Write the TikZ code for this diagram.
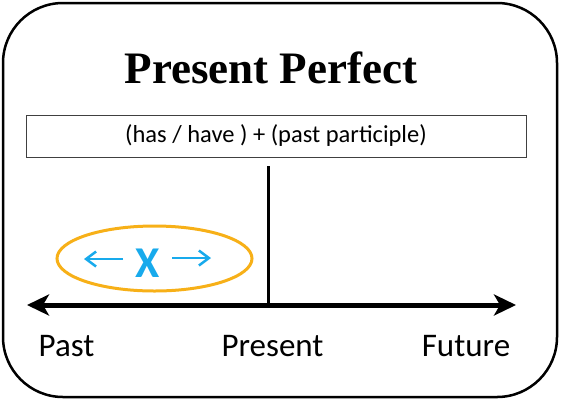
\documentclass[tikz,border=0pt]{standalone}
\usepackage{fontspec}
\setmainfont{Carlito}
\newfontfamily\titlefont{Liberation Serif}
\usetikzlibrary{arrows.meta,shapes.geometric}
\definecolor{ringorange}{RGB}{247,176,24}
\definecolor{xblue}{RGB}{24,170,236}
\tikzset{
  frame/.style={draw=black, line width=2.5pt, rounded corners=60pt},
  formulabox/.style={draw=black!75, line width=0.9pt, minimum width=500pt, minimum height=42pt, inner sep=0pt, font=\fontsize{24.5}{29}\selectfont},
  titletext/.style={anchor=base, font=\titlefont\bfseries\fontsize{45}{50}\selectfont},
  timelabel/.style={anchor=base, font=\fontsize{33}{38}\selectfont},
  timeline/.style={line width=5pt, {Stealth[length=22pt,width=21pt,inset=6pt]}-{Stealth[length=22pt,width=21pt,inset=6pt]}},
  nowline/.style={line width=3pt},
  ring/.style={ellipse, draw=ringorange, line width=3pt, minimum width=195pt, minimum height=65pt},
  xmark/.style={text=xblue, font=\bfseries\fontsize{44}{48}\selectfont, inner sep=0pt},
  spread/.style={draw=xblue, line width=2.5pt, -{Straight Barb[length=10pt,width=15pt]}}
}
\begin{document}
\begin{tikzpicture}[x=1pt, y=-1pt]
\useasboundingbox (0,0) rectangle (561,400);
\draw[frame] (3,3) rectangle (557,397);
\node[titletext] (title) at (271,83) {Present Perfect};
\node[formulabox] (formula) at (276,136) {(has / have ) + (past participle)};
\coordinate (nowtop) at (268,166);
\coordinate (now) at (268,305);
\coordinate (pastend) at (27,305);
\coordinate (futureend) at (516,305);
\draw[nowline] (nowtop) -- (now);
\draw[timeline] (pastend) -- (futureend);
\node[ring] (ring) at (154.5,258.5) {};
\node[xmark] (x) at (147.5,263) {X};
\coordinate (la) at (123,259);
\coordinate (lb) at (84,259);
\coordinate (ra) at (172,258);
\coordinate (rb) at (211,258);
\draw[spread] (la) -- (lb);
\draw[spread] (ra) -- (rb);
\node[timelabel] (past) at (66.5,356) {Past};
\node[timelabel] (present) at (272.5,356) {Present};
\node[timelabel] (future) at (466,356) {Future};
\end{tikzpicture}
\end{document}
